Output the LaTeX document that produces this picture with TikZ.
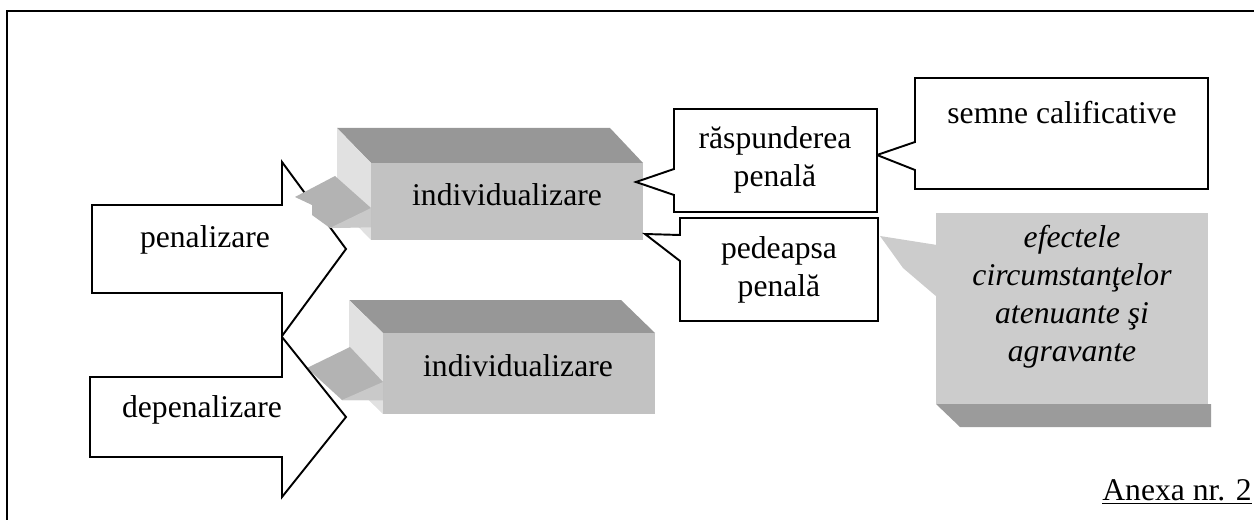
\documentclass[tikz,border=0pt]{standalone}
\usepackage{fontspec}
\setmainfont{Liberation Serif}
\definecolor{boxfront}{HTML}{C2C2C2}
\definecolor{boxtop}{HTML}{979797}
\definecolor{boxside}{HTML}{E1E1E1}
\definecolor{taildark}{HTML}{B3B3B3}
\definecolor{taillight}{HTML}{C9C9C9}
\definecolor{notefill}{HTML}{CCCCCC}
\definecolor{notebottom}{HTML}{9B9B9B}
\tikzset{
  lbl/.style={font=\fontsize{18}{22}\selectfont, align=center, inner sep=0pt},
  outline/.style={draw=black, line width=1.1pt, fill=white, line join=miter},
  flat/.style={draw=none}
}

\begin{document}
\begin{tikzpicture}[x=0.02cm, y=-0.02cm]
        \useasboundingbox (0,0) rectangle (1254,520);
        \draw [line width=1.4pt] (7,520) -- (7,11) -- (1254,11);

        \draw [outline] (92,205) -- (282,205) -- (282,162) -- (346,249) -- (282,336) -- (282,293) -- (92,293) -- cycle;
        \node [lbl] (pen) at (205,240) {penalizare};

        \fill [boxtop] (349,300) -- (621,300) -- (655,333) -- (383,333) -- cycle;
        \fill [boxside] (349,300) -- (383,333) -- (383,414) -- (349,381) -- cycle;
        \fill [boxfront] (383,333) rectangle (655,414);
        \fill [taildark] (307,368) -- (350,347) -- (383,382) -- (383,400) -- (342,400) -- cycle;
        \fill [taillight] (342,400) -- (383,382) -- (383,400) -- cycle;
        \node [lbl] (indlow) at (518,366) {individualizare};

        \draw [outline] (90,377) -- (282,377) -- (282,337) -- (346,417) -- (282,497) -- (282,457) -- (90,457) -- cycle;
        \node [lbl] (depen) at (202,410) {depenalizare};

        \fill [boxtop] (337,128) -- (610,128) -- (643,163) -- (371,163) -- cycle;
        \fill [boxside] (337,128) -- (371,163) -- (371,240) -- (337,205) -- cycle;
        \fill [boxfront] (371,163) rectangle (643,240);
        \fill [taildark] (295,197) -- (335,176) -- (371,208) -- (371,227) -- (330,228) -- (312,215) -- (312,205) -- cycle;
        \fill [taillight] (330,228) -- (371,208) -- (371,227) -- cycle;
        \node [lbl] (indup) at (507,195) {individualizare};

        \fill [notebottom] (936,404) -- (1211,404) -- (1211,427) -- (960,427) -- cycle;
        \fill [notefill] (936,213) rectangle (1208,404);
        \fill [notefill] (880,236) -- (937,245) -- (937,297) -- (903,268) -- cycle;
        \node [lbl, font=\fontsize{18}{21.6}\selectfont\itshape] (efect) at (1072,297)
            {efectele\\circumstanţelor\\atenuante şi\\agravante};

        \draw [outline] (915,78) -- (1208,78) -- (1208,189) -- (915,189) -- (915,170) -- (877,155) -- (915,142) -- cycle;
        \node [lbl] (semne) at (1062,113) {semne calificative};

        \draw [outline] (674,109) -- (877,109) -- (877,212) -- (674,212) -- (674,195) -- (636,182) -- (674,169) -- cycle;
        \node [lbl] (rasp) at (775,160) {răspunderea\\penală};

        \draw [outline] (680,218) -- (878,218) -- (878,321) -- (680,321) -- (680,261) -- (645,234) -- (680,235) -- cycle;
        \node [lbl] (pedeapsa) at (779,270) {pedeapsa\\penală};

        \node [lbl, anchor=base east] (anexa) at (1252,500) {\underline{Anexa nr. 2}};
    \end{tikzpicture}
\end{document}
